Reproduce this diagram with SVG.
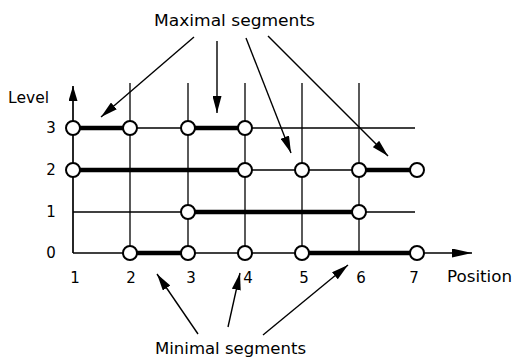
<svg xmlns="http://www.w3.org/2000/svg" width="515" height="361" viewBox="0 0 515 361">
<style>
text{font-family:"DejaVu Sans","Liberation Sans",sans-serif;fill:#000}
.lbl{font-size:16px}
.num{font-size:15px;text-anchor:middle}
.thin{stroke:#000;stroke-width:1.3;fill:none}
.thick{stroke:#000;stroke-width:4.5;fill:none}
.ptr{stroke:#000;stroke-width:1.4;fill:none;marker-end:url(#ah)}
.node{fill:#fff;stroke:#000;stroke-width:2}
</style>
<defs>
<marker id="ah" viewBox="0 0 17 9" refX="17" refY="4.5" markerWidth="17" markerHeight="9" orient="auto" markerUnits="userSpaceOnUse"><path d="M0,0 L17,4.5 L0,9 z" fill="#000"/></marker>
<marker id="ax" viewBox="0 0 20 9" refX="20" refY="4.5" markerWidth="20" markerHeight="9" orient="auto" markerUnits="userSpaceOnUse"><path d="M0,0 L20,4.5 L0,9 z" fill="#000"/></marker>
<marker id="ay" viewBox="0 0 15 9" refX="15" refY="4.5" markerWidth="15" markerHeight="9" orient="auto" markerUnits="userSpaceOnUse"><path d="M0,0 L15,4.5 L0,9 z" fill="#000"/></marker>
</defs>
<rect width="515" height="361" fill="#fff"/>
<g id="grid">
<line class="thin" x1="130" y1="83" x2="130" y2="253"/>
<line class="thin" x1="188" y1="83" x2="188" y2="253"/>
<line class="thin" x1="245" y1="83" x2="245" y2="253"/>
<line class="thin" x1="302" y1="83" x2="302" y2="253"/>
<line class="thin" x1="359" y1="83" x2="359" y2="253"/>
<line class="thin" x1="73" y1="128" x2="415" y2="128"/>
<line class="thin" x1="73" y1="170" x2="417" y2="170"/>
<line class="thin" x1="73" y1="212" x2="415" y2="212"/>
</g>
<g id="axes">
<line class="thin" x1="73" y1="253" x2="73" y2="86" style="stroke-width:1.7;marker-end:url(#ay)"/>
<line class="thin" x1="73" y1="253" x2="472" y2="253" style="stroke-width:1.7;marker-end:url(#ax)"/>
</g>
<g id="connectors">
<line class="thick" x1="73" y1="128" x2="130" y2="128"/>
<line class="thick" x1="188" y1="128" x2="245" y2="128"/>
<line class="thick" x1="73" y1="170" x2="245" y2="170"/>
<line class="thick" x1="359" y1="170" x2="417" y2="170"/>
<line class="thick" x1="188" y1="212" x2="359" y2="212"/>
<line class="thick" x1="130" y1="253" x2="188" y2="253"/>
<line class="thick" x1="302" y1="253" x2="417" y2="253"/>
<line class="ptr" x1="194" y1="37" x2="101" y2="117"/>
<line class="ptr" x1="217" y1="41" x2="217" y2="113"/>
<line class="ptr" x1="246" y1="38" x2="291" y2="153"/>
<line class="ptr" x1="268" y1="36" x2="388" y2="156"/>
<line class="ptr" x1="198" y1="334" x2="157" y2="274"/>
<line class="ptr" x1="228" y1="327" x2="240" y2="273"/>
<line class="ptr" x1="263" y1="335" x2="348" y2="265"/>
</g>
<g id="n-3-1"><circle class="node" cx="73" cy="128" r="7"/></g>
<g id="n-3-2"><circle class="node" cx="130" cy="128" r="7"/></g>
<g id="n-3-3"><circle class="node" cx="188" cy="128" r="7"/></g>
<g id="n-3-4"><circle class="node" cx="245" cy="128" r="7"/></g>
<g id="n-2-1"><circle class="node" cx="73" cy="170" r="7"/></g>
<g id="n-2-4"><circle class="node" cx="245" cy="170" r="7"/></g>
<g id="n-2-5"><circle class="node" cx="302" cy="170" r="7"/></g>
<g id="n-2-6"><circle class="node" cx="359" cy="170" r="7"/></g>
<g id="n-2-7"><circle class="node" cx="417" cy="170" r="7"/></g>
<g id="n-1-3"><circle class="node" cx="188" cy="212" r="7"/></g>
<g id="n-1-6"><circle class="node" cx="359" cy="212" r="7"/></g>
<g id="n-0-2"><circle class="node" cx="130" cy="253" r="7"/></g>
<g id="n-0-3"><circle class="node" cx="188" cy="253" r="7"/></g>
<g id="n-0-4"><circle class="node" cx="245" cy="253" r="7"/></g>
<g id="n-0-5"><circle class="node" cx="302" cy="253" r="7"/></g>
<g id="n-0-7"><circle class="node" cx="417" cy="253" r="7"/></g>
<g id="labels">
<text class="lbl" x="154" y="26" textLength="161" lengthAdjust="spacingAndGlyphs">Maximal segments</text>
<text class="lbl" x="155" y="354" textLength="151" lengthAdjust="spacingAndGlyphs">Minimal segments</text>
<text class="lbl" x="8" y="103" textLength="41" lengthAdjust="spacingAndGlyphs">Level</text>
<text class="lbl" x="447" y="282" textLength="65" lengthAdjust="spacingAndGlyphs">Position</text>
<text class="num" x="51" y="133">3</text>
<text class="num" x="51" y="175">2</text>
<text class="num" x="51" y="217">1</text>
<text class="num" x="51" y="258">0</text>
<text class="num" x="75" y="283">1</text>
<text class="num" x="131" y="283">2</text>
<text class="num" x="191" y="283">3</text>
<text class="num" x="248" y="283">4</text>
<text class="num" x="304" y="283">5</text>
<text class="num" x="361" y="283">6</text>
<text class="num" x="414" y="283">7</text>
</g>
</svg>
